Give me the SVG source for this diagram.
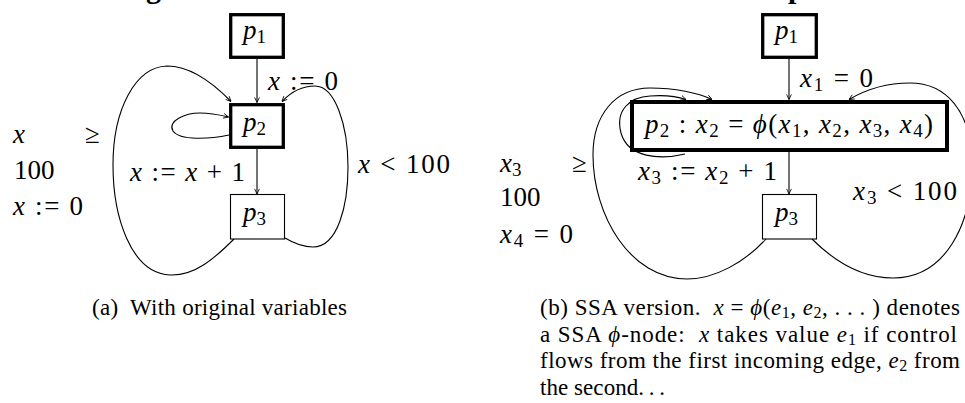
<svg xmlns="http://www.w3.org/2000/svg" width="965" height="403" viewBox="0 0 965 403">
<style>
.m{font-family:"Liberation Serif","DejaVu Serif",serif;font-size:27px;fill:#000}
.i{font-style:italic}
.s{font-size:19px}
.cap{font-family:"Liberation Serif","DejaVu Serif",serif;font-size:23px;fill:#000}
.cs{font-size:16px}
.thick{fill:#fff;stroke:#000;stroke-width:3.3}
.thin{fill:#fff;stroke:#000;stroke-width:1.1}
.e{fill:none;stroke:#000;stroke-width:1.1}
.hd{font-family:"Liberation Serif",serif;font-weight:bold;font-size:30px;fill:#000}
</style>
<defs>
<marker id="ah" viewBox="0 0 10 10" refX="9.5" refY="5" markerWidth="6" markerHeight="6" orient="auto" markerUnits="userSpaceOnUse">
<path d="M1,1 L9.5,5 L1,9" fill="none" stroke="#000" stroke-width="1.4"/>
</marker>
</defs>
<rect width="965" height="403" fill="#fff"/>
<text class="hd" x="146" y="-2.5">g</text>
<text class="hd" x="788" y="-2.5">p</text>

<g id="connectors">
<line class="e" x1="257" y1="59" x2="257" y2="102.5" marker-end="url(#ah)"/>
<line class="e" x1="257" y1="149" x2="257" y2="194" marker-end="url(#ah)"/>
<path class="e" d="M229,135 C210,139 180,141 173,131 C167,121 185,113 200,113 C212,113 220,115 228.5,117" marker-end="url(#ah)"/>
<path class="e" d="M234,239 C215,258 195,276 170,275 C130,273 113,215 113,165 C113,110 135,67 167,66 C192,66 215,85 231,101.5" marker-end="url(#ah)"/>
<path class="e" d="M285,238 C295,244 303,247 313,247 C338,247 348,205 348,167 C348,125 335,86 315,86 C300,86 290,93 282,101.5" marker-end="url(#ah)"/>

<line class="e" x1="789" y1="59" x2="789" y2="99.5" marker-end="url(#ah)"/>
<line class="e" x1="789" y1="152" x2="789" y2="194" marker-end="url(#ah)"/>
<path class="e" d="M685,154 C660,160 628,158 621,133 C615,110 630,97 650,96 C665,95 676,96 686,99.5" marker-end="url(#ah)"/>
<path class="e" d="M766,239 C745,262 715,279 687,279 C630,279 593,215 593,155 C593,115 615,88 650,88 C675,88 698,93 712,99.5" marker-end="url(#ah)"/>
<path class="e" d="M812,239 C835,262 862,278 893,278 C945,278 972,225 972,165 C972,110 945,83 910,83 C885,83 865,90 849,99.5" marker-end="url(#ah)"/>
</g>

<g id="a-p1">
<rect class="thick" x="230.7" y="14.7" width="52.6" height="42.6"/>
<text class="m" x="243" y="39"><tspan class="i">p</tspan><tspan class="s" dy="4">1</tspan></text>
</g>
<g id="a-p2">
<rect class="thick" x="230.7" y="104.7" width="52.6" height="42.6"/>
<text class="m" x="243" y="131"><tspan class="i">p</tspan><tspan class="s" dy="4">2</tspan></text>
</g>
<g id="a-p3">
<rect class="thin" x="230.5" y="194.5" width="54" height="44.5"/>
<text class="m" x="243" y="221"><tspan class="i">p</tspan><tspan class="s" dy="4">3</tspan></text>
</g>

<g id="a-labels">
<text class="m" x="268" y="90" textLength="70"><tspan class="i">x</tspan> := 0</text>
<text class="m" x="130" y="181" textLength="115"><tspan class="i">x</tspan> := <tspan class="i">x</tspan> + 1</text>
<text class="m" x="358" y="173" textLength="92"><tspan class="i">x</tspan> &lt; 100</text>
<text class="m" x="13" y="143"><tspan class="i">x</tspan></text>
<text class="m" x="85" y="143">≥</text>
<text class="m" x="14" y="179">100</text>
<text class="m" x="13" y="215" textLength="70"><tspan class="i">x</tspan> := 0</text>
</g>

<g id="b-p1">
<rect class="thick" x="762.7" y="14.7" width="53.6" height="42.6"/>
<text class="m" x="775" y="39"><tspan class="i">p</tspan><tspan class="s" dy="4">1</tspan></text>
</g>
<g id="b-p2">
<rect class="thick" x="632" y="102" width="315" height="48" style="stroke-width:4"/>
<text class="m" x="645" y="133" textLength="288"><tspan class="i">p</tspan><tspan class="s" dy="4">2</tspan><tspan dy="-4"> : </tspan><tspan class="i">x</tspan><tspan class="s" dy="4">2</tspan><tspan dy="-4"> = </tspan><tspan class="i">ϕ</tspan>(<tspan class="i">x</tspan><tspan class="s" dy="4">1</tspan><tspan dy="-4">, </tspan><tspan class="i">x</tspan><tspan class="s" dy="4">2</tspan><tspan dy="-4">, </tspan><tspan class="i">x</tspan><tspan class="s" dy="4">3</tspan><tspan dy="-4">, </tspan><tspan class="i">x</tspan><tspan class="s" dy="4">4</tspan><tspan dy="-4">)</tspan></text>
</g>
<g id="b-p3">
<rect class="thin" x="762.5" y="194.5" width="54" height="44.5"/>
<text class="m" x="775" y="221"><tspan class="i">p</tspan><tspan class="s" dy="4">3</tspan></text>
</g>

<g id="b-labels">
<text class="m" x="800" y="87" textLength="73"><tspan class="i">x</tspan><tspan class="s" dy="4">1</tspan><tspan dy="-4"> = 0</tspan></text>
<text class="m" x="638" y="180" textLength="139"><tspan class="i">x</tspan><tspan class="s" dy="4">3</tspan><tspan dy="-4"> := </tspan><tspan class="i">x</tspan><tspan class="s" dy="4">2</tspan><tspan dy="-4"> + 1</tspan></text>
<text class="m" x="853" y="200" textLength="104"><tspan class="i">x</tspan><tspan class="s" dy="4">3</tspan><tspan dy="-4"> &lt; 100</tspan></text>
<text class="m" x="500" y="172"><tspan class="i">x</tspan><tspan class="s" dy="4">3</tspan></text>
<text class="m" x="572" y="172">≥</text>
<text class="m" x="500" y="206">100</text>
<text class="m" x="500" y="243" textLength="73"><tspan class="i">x</tspan><tspan class="s" dy="4">4</tspan><tspan dy="-4"> = 0</tspan></text>
</g>

<g id="captions">
<text class="cap" x="92" y="315" textLength="255">(a)&#160; With original variables</text>
<text class="cap" x="540" y="315" textLength="420">(b) SSA version.&#160; <tspan class="i">x</tspan> = <tspan class="i">ϕ</tspan>(<tspan class="i">e</tspan><tspan class="cs" dy="3">1</tspan><tspan dy="-3">, </tspan><tspan class="i">e</tspan><tspan class="cs" dy="3">2</tspan><tspan dy="-3">, . . . ) denotes</tspan></text>
<text class="cap" x="540" y="342" textLength="417">a SSA <tspan class="i">ϕ</tspan>-node:&#160; <tspan class="i">x</tspan> takes value <tspan class="i">e</tspan><tspan class="cs" dy="3">1</tspan><tspan dy="-3"> if control</tspan></text>
<text class="cap" x="540" y="368" textLength="420">flows from the first incoming edge, <tspan class="i">e</tspan><tspan class="cs" dy="3">2</tspan><tspan dy="-3"> from</tspan></text>
<text class="cap" x="540" y="395" textLength="125">the second.&#8201;.&#8201;.</text>
</g>
</svg>
